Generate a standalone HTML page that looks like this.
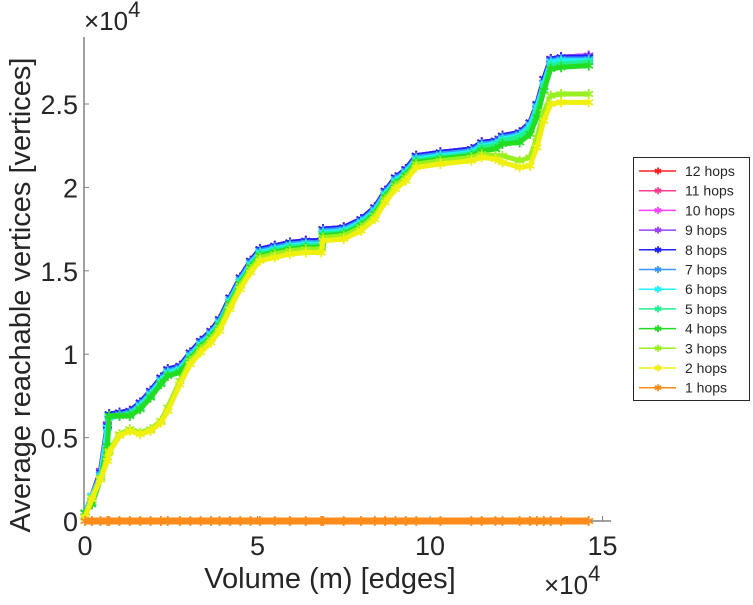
<!DOCTYPE html>
<html><head><meta charset="utf-8"><style>
body{margin:0;background:#fff;width:753px;height:600px;overflow:hidden}
text{font-family:"Liberation Sans",sans-serif;fill:#262626}
</style></head><body>
<svg id="chart" width="753" height="600" viewBox="0 0 753 600" xmlns="http://www.w3.org/2000/svg">
<g id="axes"></g>
<g id="series"></g>
<g id="legend"></g>
</svg>
<script>
const volume = [0,0.2,0.45,0.65,0.7,1.0,1.3,1.6,1.9,2.2,2.4,2.75,3.05,3.35,3.65,3.9,4.2,4.5,4.8,5.07,5.5,5.94,6.4,6.85,6.9,7.5,8.0,8.4,8.7,9.0,9.3,9.6,10.3,11.2,11.5,11.9,12.1,12.6,12.9,13.1,13.3,13.5,13.8,14.6];
const hops12 = [0.05,0.15,0.3,0.58,0.64,0.65,0.66,0.71,0.78,0.86,0.91,0.93,1.01,1.08,1.14,1.21,1.34,1.46,1.56,1.63,1.65,1.67,1.68,1.68,1.75,1.76,1.81,1.88,1.98,2.06,2.11,2.19,2.21,2.23,2.27,2.28,2.31,2.33,2.39,2.5,2.65,2.77,2.78,2.79];
const hops11 = hops12.slice();
const hops10 = hops12.slice();
const hops9 = [0.05,0.15,0.3,0.58,0.64,0.65,0.66,0.71,0.78,0.86,0.91,0.93,1.01,1.08,1.14,1.21,1.34,1.46,1.56,1.63,1.65,1.67,1.68,1.68,1.75,1.76,1.81,1.88,1.98,2.06,2.11,2.19,2.21,2.23,2.27,2.28,2.31,2.33,2.39,2.5,2.65,2.77,2.78,2.79];
const hops8 = [0.05,0.15,0.29,0.57,0.64,0.65,0.66,0.71,0.78,0.86,0.91,0.93,1.01,1.08,1.14,1.21,1.34,1.46,1.56,1.63,1.65,1.67,1.68,1.68,1.75,1.76,1.81,1.88,1.98,2.06,2.11,2.19,2.21,2.23,2.27,2.28,2.31,2.33,2.39,2.5,2.65,2.77,2.78,2.78];
const hops7 = [0.05,0.15,0.28,0.56,0.63,0.64,0.65,0.70,0.77,0.85,0.90,0.92,1.00,1.07,1.13,1.20,1.33,1.45,1.55,1.62,1.64,1.66,1.67,1.67,1.74,1.75,1.80,1.87,1.97,2.05,2.10,2.18,2.20,2.22,2.26,2.27,2.30,2.32,2.38,2.49,2.63,2.76,2.77,2.77];
const hops6 = [0.05,0.15,0.27,0.56,0.62,0.63,0.64,0.69,0.76,0.84,0.89,0.91,0.99,1.06,1.12,1.19,1.32,1.44,1.54,1.61,1.63,1.65,1.66,1.66,1.73,1.74,1.79,1.86,1.96,2.04,2.09,2.17,2.19,2.21,2.25,2.26,2.29,2.31,2.37,2.48,2.62,2.75,2.76,2.76];
const hops5 = [0.05,0.11,0.26,0.45,0.63,0.63,0.64,0.68,0.75,0.83,0.88,0.9,0.98,1.05,1.11,1.18,1.31,1.43,1.53,1.60,1.62,1.64,1.65,1.65,1.72,1.73,1.78,1.85,1.95,2.03,2.08,2.16,2.18,2.20,2.24,2.25,2.28,2.30,2.35,2.45,2.6,2.73,2.74,2.75];
const hops4 = [0.05,0.1,0.25,0.45,0.63,0.63,0.63,0.67,0.74,0.82,0.87,0.89,0.97,1.04,1.10,1.17,1.30,1.42,1.52,1.59,1.61,1.63,1.64,1.64,1.71,1.72,1.77,1.84,1.94,2.02,2.07,2.15,2.17,2.19,2.22,2.23,2.26,2.27,2.32,2.42,2.58,2.71,2.72,2.73];
const hops3 = [0.03,0.14,0.26,0.38,0.42,0.52,0.55,0.53,0.55,0.6,0.68,0.84,0.96,1.03,1.09,1.16,1.29,1.41,1.51,1.58,1.60,1.62,1.63,1.63,1.70,1.71,1.76,1.83,1.93,2.01,2.06,2.14,2.16,2.18,2.2,2.19,2.19,2.16,2.18,2.3,2.45,2.55,2.56,2.56];
const hops2 = [0.02,0.13,0.25,0.36,0.41,0.51,0.54,0.52,0.54,0.59,0.66,0.82,0.94,1.01,1.07,1.14,1.27,1.39,1.49,1.56,1.58,1.60,1.61,1.61,1.68,1.69,1.74,1.81,1.91,1.99,2.04,2.12,2.14,2.16,2.18,2.17,2.15,2.12,2.13,2.24,2.4,2.5,2.51,2.51];
const hops1 = [0,0,0,0,0,0,0,0,0,0,0,0,0,0,0,0,0,0,0,0,0,0,0,0,0,0,0,0,0,0,0,0,0,0,0,0,0,0,0,0,0,0,0,0];
const seriesNames = ["12 hops","11 hops","10 hops","9 hops","8 hops","7 hops","6 hops","5 hops","4 hops","3 hops","2 hops","1 hops"];
const seriesData = [hops12,hops11,hops10,hops9,hops8,hops7,hops6,hops5,hops4,hops3,hops2,hops1];
const seriesColors = ["#ff2020","#ff3d8f","#ff40ff","#9a40ff","#2020ff","#3a96ff","#20f0ff","#20f090","#22dd22","#99f020","#f0f010","#ff8c1a"];
const xTicks = [0,5,10,15];
const yTicks = [0,0.5,1,1.5,2,2.5];
const yTickLabels = ["0","0.5","1","1.5","2","2.5"];

const NS="http://www.w3.org/2000/svg";
const L=84,R=611,T=37,B=521;
const X=v=>85+v*34.5;
const Y=v=>521-v*166.8;
function mk(tag,attrs,parent){const e=document.createElementNS(NS,tag);for(const k in attrs)e.setAttribute(k,attrs[k]);parent.appendChild(e);return e;}
const ax=document.getElementById('axes');
let a=mk('line',{x1:L,y1:T,x2:L,y2:B,stroke:'#808080','stroke-width':1.5},ax);


a=mk('line',{x1:L,y1:B,x2:R,y2:B,stroke:'#808080','stroke-width':1.5},ax);


xTicks.forEach(t=>{
  const tk=mk('line',{x1:X(t),y1:B,x2:X(t),y2:B-5,stroke:'#808080'},ax);
  
  
  const tx=mk('text',{x:X(t),y:B+34,'text-anchor':'middle','font-size':27},ax);
  tx.textContent=t;
  
  
});
yTicks.forEach((t,i)=>{
  const tk=mk('line',{x1:L,y1:Y(t),x2:L+5,y2:Y(t),stroke:'#808080'},ax);
  
  
  const tx=mk('text',{x:L-6,y:Y(t)+10,'text-anchor':'end','font-size':27},ax);
  tx.textContent=yTickLabels[i];
  
  
});
function expo(x,y,name){
  const t=mk('text',{x:x,y:y,'font-size':26},ax);
  t.innerHTML='×10<tspan dy="-13" font-size="22">4</tspan>';
  
  
}
expo(84,30,'y-exponent-label');
expo(544,594,'x-exponent-label');
let lab=mk('text',{x:330,y:588,'text-anchor':'middle','font-size':29},ax);
lab.textContent='Volume (m) [edges]';


lab=mk('text',{x:0,y:0,'text-anchor':'middle','font-size':29,transform:'translate(30,295) rotate(-90)'},ax);
lab.textContent='Average reachable vertices [vertices]';



function star(g,cx,cy,r,c,w){
  let d='';
  for(let k=0;k<3;k++){const an=Math.PI/2+k*Math.PI/3;const dx=r*Math.cos(an),dy=r*Math.sin(an);d+=`M${cx-dx},${cy-dy}L${cx+dx},${cy+dy}`;}
  mk('path',{d:d,stroke:c,'stroke-width':w,fill:'none'},g);
}
const sg=document.getElementById('series');
seriesData.forEach((arr,si)=>{
  const g=mk('g',{},sg);
  
  
  const pts=arr.map((v,i)=>X(volume[i])+','+Y(v)).join(' ');
  const isZero=si===seriesData.length-1;
  mk('polyline',{points:pts,fill:'none',stroke:seriesColors[si],'stroke-width':isZero?7:5,'stroke-linejoin':'round'},g);
  arr.forEach((v,i)=>star(g,X(volume[i]),Y(v),5,seriesColors[si],1.8));
});
const lg=document.getElementById('legend');
mk('rect',{x:633.5,y:157.5,width:116,height:243,fill:'#fff',stroke:'#262626','stroke-width':1},lg);
seriesNames.forEach((n,i)=>{
  const y=171+i*19.7;
  const g=mk('g',{},lg);
  
  
  mk('line',{x1:639,y1:y,x2:676,y2:y,stroke:seriesColors[i],'stroke-width':1.5},g);
  star(g,658,y,3.5,seriesColors[i],1.8);
  const t=mk('text',{x:685,y:y+5,'font-size':14},g);
  t.textContent=n;
});
</script>
</body></html>
